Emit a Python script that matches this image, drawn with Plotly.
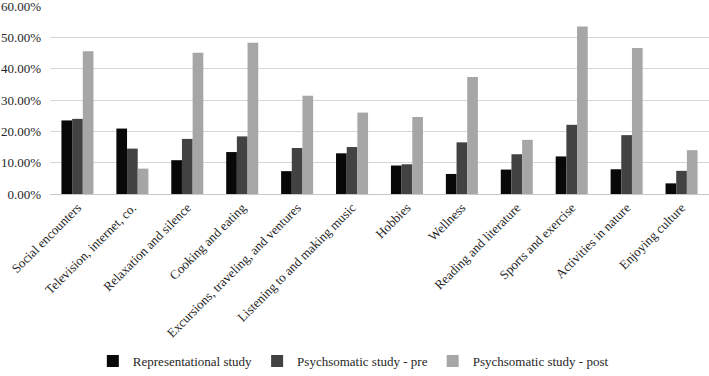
import plotly.graph_objects as go

categories = ["Social encounters", "Television, internet, co.", "Relaxation and silence",
              "Cooking and eating", "Excursions, traveling, and ventures",
              "Listening to and making music", "Hobbies", "Wellness",
              "Reading and literature", "Sports and exercise", "Activities in nature",
              "Enjoying culture"]
representational = [23.5, 20.9, 10.8, 13.4, 7.3, 13.0, 9.1, 6.4, 7.8, 12.0, 7.9, 3.4]
psy_pre = [24.0, 14.5, 17.6, 18.4, 14.7, 15.0, 9.5, 16.5, 12.7, 22.1, 18.8, 7.4]
psy_post = [45.6, 8.1, 45.1, 48.3, 31.4, 26.0, 24.6, 37.4, 17.3, 53.5, 46.6, 14.0]
series_names = ["Representational study", "Psychsomatic study - pre", "Psychsomatic study - post"]
y_ticks = [0.0, 0.1, 0.2, 0.3, 0.4, 0.5, 0.6]
y_tick_labels = ["0.00%", "10.00%", "20.00%", "30.00%", "40.00%", "50.00%", "60.00%"]
colors = ["#080808", "#424242", "#a6a6a6"]

fig = go.Figure()
for name, vals, col in zip(series_names, [representational, psy_pre, psy_post], colors):
    fig.add_trace(go.Bar(x=categories, y=[v / 100 for v in vals], name=name,
                         marker=dict(color=col, line=dict(width=0))))

family = "Liberation Serif, Times New Roman, serif"
txt = "#262626"
fig.update_layout(
    width=709, height=376,
    margin=dict(l=50, r=0, t=6, b=178),
    paper_bgcolor="white", plot_bgcolor="white",
    barmode="group", bargap=0.417, bargroupgap=0.0,
    font=dict(family=family, size=13, color=txt),
    showlegend=True,
    legend=dict(orientation="h", x=0.065, xanchor="left", y=-0.89, yanchor="middle",
                font=dict(family=family, size=13, color=txt),
                itemwidth=30, traceorder="normal"),
    xaxis=dict(tickangle=-45, showgrid=False, showline=True, linecolor="#c8c8c8",
               linewidth=1, ticks="", tickfont=dict(size=13, color=txt)),
    yaxis=dict(range=[0, 0.6005], tickvals=y_ticks, ticktext=y_tick_labels,
               showgrid=True, gridcolor="#d6d6d6", gridwidth=1.2, zeroline=False,
               showline=False, ticks="", ticklabelstandoff=8,
               ticklabeloverflow="allow",
               tickfont=dict(size=13, color=txt)),
)
fig.write_html("out.html")
